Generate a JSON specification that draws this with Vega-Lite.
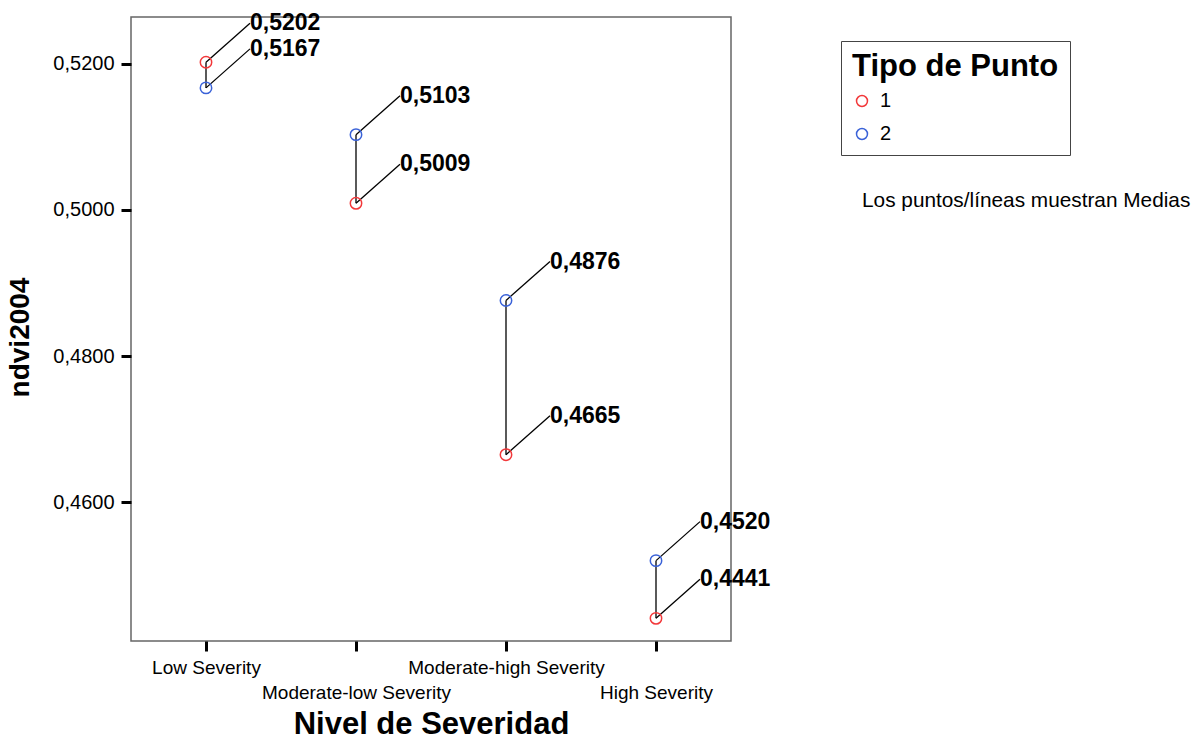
{
  "$schema": "https://vega.github.io/schema/vega-lite/v6.json",
  "width": 600,
  "height": 624,
  "autosize": {"type": "none"},
  "padding": {"left": 131, "top": 17, "right": 461, "bottom": 99},
  "background": "white",
  "data": {
    "values": [
      {"nivel": "Low Severity", "tipo": "1", "ndvi": 0.5202, "nota": "n"},
      {"nivel": "Low Severity", "tipo": "2", "ndvi": 0.5167, "nota": "n"},
      {"nivel": "Moderate-low Severity", "tipo": "1", "ndvi": 0.5009, "nota": "n"},
      {"nivel": "Moderate-low Severity", "tipo": "2", "ndvi": 0.5103, "nota": "n"},
      {"nivel": "Moderate-high Severity", "tipo": "1", "ndvi": 0.4665, "nota": "n"},
      {"nivel": "Moderate-high Severity", "tipo": "2", "ndvi": 0.4876, "nota": "n"},
      {"nivel": "High Severity", "tipo": "1", "ndvi": 0.4441, "nota": "n"},
      {"nivel": "High Severity", "tipo": "2", "ndvi": 0.4520, "nota": "n"}
    ]
  },
  "encoding": {
    "x": {
      "field": "nivel",
      "type": "nominal",
      "sort": ["Low Severity", "Moderate-low Severity", "Moderate-high Severity", "High Severity"],
      "scale": {"type": "point", "padding": 0.5},
      "axis": {
        "title": "Nivel de Severidad",
        "labelAngle": 0,
        "labelFontSize": 19,
        "labelColor": "#000",
        "labelPadding": 7,
        "labelLineHeight": 25,
        "labelBaseline": "top",
        "labelLimit": 400,
        "labelExpr": "(datum.value == 'Moderate-low Severity' || datum.value == 'High Severity') ? ['', datum.label] : datum.label",
        "domain": false,
        "ticks": true,
        "tickColor": "#000",
        "tickWidth": 3,
        "tickSize": 10,
        "grid": false,
        "titleFontSize": 31,
        "titleFontWeight": "bold",
        "titlePadding": 7,
        "titleColor": "#000"
      }
    },
    "y": {
      "field": "ndvi",
      "type": "quantitative",
      "scale": {"domain": [0.441, 0.5264], "nice": false, "zero": false},
      "axis": {
        "title": "ndvi2004",
        "values": [0.46, 0.48, 0.50, 0.52],
        "format": ".4f",
        "labelFontSize": 20,
        "labelColor": "#000",
        "labelPadding": 7,
        "domain": false,
        "ticks": true,
        "tickColor": "#000",
        "tickWidth": 3,
        "tickSize": 10,
        "grid": false,
        "titleFontSize": 28,
        "titleFontWeight": "bold",
        "titlePadding": 18,
        "titleY": 320,
        "titleColor": "#000"
      }
    }
  },
  "layer": [
    {
      "mark": {"type": "line", "color": "#000", "strokeWidth": 1.3},
      "encoding": {"detail": {"field": "nivel"}}
    },
    {
      "mark": {"type": "rule", "color": "#000", "strokeWidth": 1.3, "x2Offset": 44, "y2Offset": -39},
      "encoding": {
        "x2": {"field": "nivel"},
        "y2": {"field": "ndvi"}
      }
    },
    {
      "mark": {"type": "point", "shape": "circle", "filled": false, "size": 130, "strokeWidth": 1.5, "opacity": 1},
      "encoding": {
        "color": {
          "field": "tipo",
          "type": "nominal",
          "scale": {"domain": ["1", "2"], "range": ["#f2383a", "#3a62d8"]},
          "legend": {
            "title": "Tipo de Punto",
            "orient": "none",
            "legendX": 710,
            "legendY": 24,
            "titleFontSize": 31,
            "titleFontWeight": "bold",
            "titleColor": "#000",
            "titleLimit": 500,
            "titlePadding": 8,
            "labelFontSize": 20,
            "labelColor": "#000",
            "labelOffset": 8,
            "symbolSize": 120,
            "symbolStrokeWidth": 1.5,
            "symbolType": "circle",
            "rowPadding": 13,
            "strokeColor": "#444",
            "padding": 11
          }
        }
      }
    },
    {
      "mark": {"type": "text", "align": "left", "baseline": "middle", "dx": 44, "dy": -39, "fontSize": 23, "fontWeight": "bold", "color": "#000"},
      "encoding": {
        "text": {"field": "ndvi", "type": "quantitative", "format": ".4f"},
        "opacity": {
          "field": "nota",
          "type": "nominal",
          "scale": {"range": [1]},
          "legend": {
            "title": "Los puntos/líneas muestran Medias",
            "orient": "none",
            "legendX": 731,
            "legendY": 174,
            "titleFontSize": 20.8,
            "titleFontWeight": "normal",
            "titleColor": "#000",
            "titleLimit": 600,
            "labelExpr": "''",
            "symbolOpacity": 0,
            "symbolSize": 0,
            "symbolStrokeWidth": 0
          }
        }
      }
    }
  ],
  "config": {
    "font": "Liberation Sans",
    "locale": {"number": {"decimal": ",", "thousands": ".", "grouping": [3], "currency": ["", " €"]}},
    "view": {"stroke": "#666", "strokeWidth": 1.5}
  }
}
